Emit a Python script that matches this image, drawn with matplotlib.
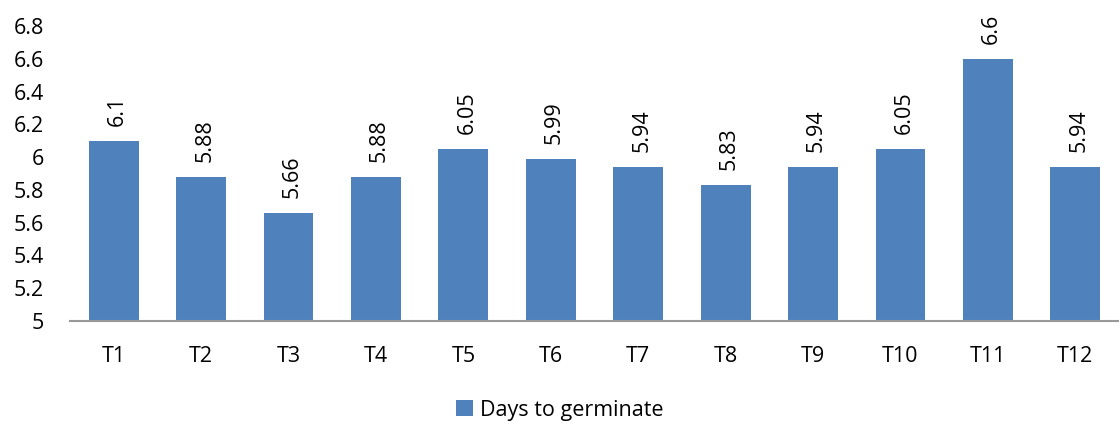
import matplotlib.pyplot as plt
from matplotlib.patches import Patch

categories = ["T1", "T2", "T3", "T4", "T5", "T6", "T7", "T8", "T9", "T10", "T11", "T12"]
days = [6.1, 5.88, 5.66, 5.88, 6.05, 5.99, 5.94, 5.83, 5.94, 6.05, 6.6, 5.94]
labels = ["6.1", "5.88", "5.66", "5.88", "6.05", "5.99", "5.94", "5.83", "5.94", "6.05", "6.6", "5.94"]
yticks = [5, 5.2, 5.4, 5.6, 5.8, 6, 6.2, 6.4, 6.6, 6.8]
ytick_labels = ["5", "5.2", "5.4", "5.6", "5.8", "6", "6.2", "6.4", "6.6", "6.8"]

plt.rcParams["font.family"] = ["Open Sans", "DejaVu Sans"]
bar_color = "#4F81BD"

fig = plt.figure(figsize=(11.19, 4.23), dpi=100)
ax = fig.add_axes([0.0626, 0.241, 0.9374, 0.6975])

x = list(range(len(categories)))
ax.bar(x, [d - 5 for d in days], bottom=5, width=0.57, color=bar_color)

# value labels, rotated, above each bar
for xi, d, lab in zip(x, days, labels):
    ax.text(xi + 0.04, d + 0.09, lab, rotation=90, ha="center", va="bottom", fontsize=15.5)

ax.set_xlim(-0.5, len(categories) - 0.5)
ax.set_ylim(5, 6.8)
ax.set_yticks(yticks)
ax.set_yticklabels(ytick_labels, fontsize=15.5)
ax.set_xticks(x)
ax.set_xticklabels(categories, fontsize=15.5)
ax.tick_params(axis="both", length=0)
ax.tick_params(axis="x", pad=18)
ax.tick_params(axis="y", pad=19)

for side in ["top", "right", "left"]:
    ax.spines[side].set_visible(False)
ax.spines["bottom"].set_color("#999999")
ax.spines["bottom"].set_linewidth(1.5)

handle = Patch(facecolor=bar_color, label="Days to germinate")
fig.legend(handles=[handle], loc="lower center", bbox_to_anchor=(0.5, -0.04),
           frameon=False, fontsize=15.5, handlelength=0.8, handleheight=0.8,
           handletextpad=0.3)

fig.savefig("out.png", dpi=100)
